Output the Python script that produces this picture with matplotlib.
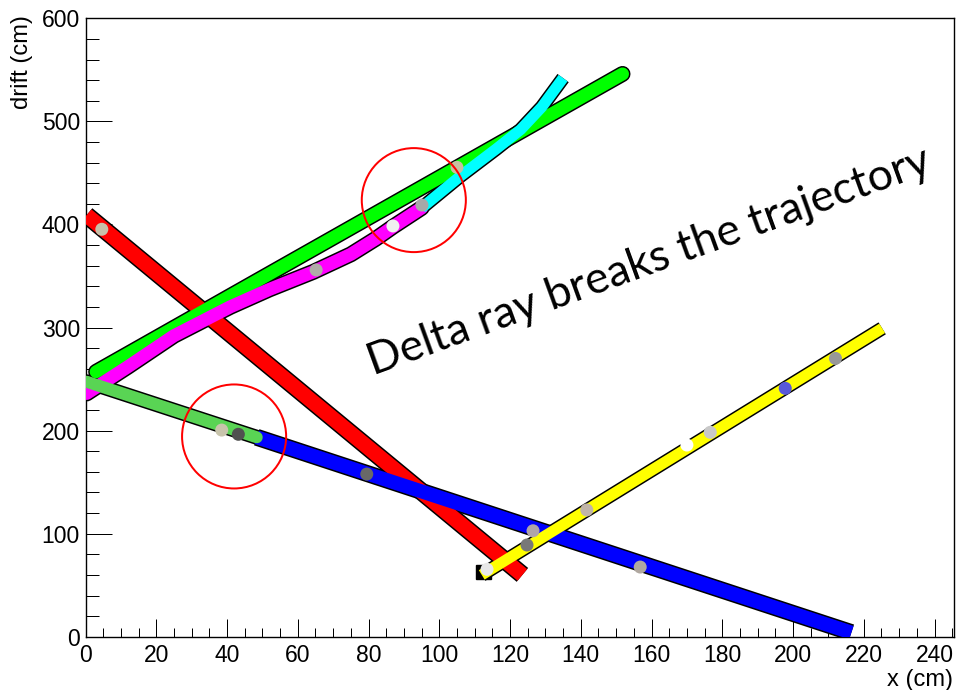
import matplotlib
matplotlib.use("Agg")
import matplotlib.pyplot as plt
from matplotlib.patches import Ellipse, Rectangle
from matplotlib.ticker import MultipleLocator

# ---- data (cm) ----
red_x = [0.3, 123.5]
red_y = [409, 60]
lime_x = [3, 151.8]
lime_y = [257, 546]
magenta_x = [0.3, 12, 25, 40.9, 52, 64.4, 75, 82, 87, 95]
magenta_y = [236, 262, 292, 320, 337, 354, 371, 386, 398, 416]
cyan_x = [95, 106, 116, 123, 129, 135]
cyan_y = [416, 447, 473, 492, 514, 542]
green_x = [0.3, 48.4]
green_y = [247.4, 193.5]
blue_x = [48.4, 216.5]
blue_y = [193.5, 4]
yellow_x = [112, 225.2]
yellow_y = [60, 299.2]

blob_x = [4.6, 65.2, 86.9, 95.1, 105, 38.5, 43.2, 79.5, 126.5, 141.7, 124.8,
          113.5, 156.8, 170, 176.6, 197.8, 212]
blob_y = [395.3, 355.8, 398.5, 418.8, 455.4, 200.5, 196.4, 157.8, 102.8, 123,
          89, 65.4, 67.6, 186, 198.3, 241, 270]
blob_c = ["#c8c0a8", "#b0aca8", "#f0f0f0", "#a8a8a8", "#c8c0a0", "#c8c4ac",
          "#505050", "#686868", "#b0a4a8", "#c0b4a8", "#787878", "#e8e8e8",
          "#b0a8a0", "#ffffff", "#c8c8c8", "#5858d8", "#989898"]

circle_x = [92.8, 42.0]
circle_y = [423.6, 194.3]

note_text = "Delta ray breaks the trajectory"

fig = plt.figure(figsize=(9.61, 6.90), dpi=100)
ax = fig.add_axes([0.089, 0.0772, 0.9037, 0.8963])
ax.set_xlim(0, 245.5)
ax.set_ylim(0, 600)

px = 72.0 / 100.0  # points per pixel


def track(x, y, color, wpx, cap="butt"):
    ax.plot(x, y, color="black", lw=(wpx + 3) * px, solid_capstyle=cap,
            solid_joinstyle="round", zorder=2)
    ax.plot(x, y, color=color, lw=wpx * px, solid_capstyle=cap,
            solid_joinstyle="round", zorder=3)


track(red_x, red_y, "#ff0000", 15)
track(lime_x, lime_y, "#00ff00", 13, "round")
track(magenta_x, magenta_y, "#ff00ff", 13, "round")
track(cyan_x, cyan_y, "#00ffff", 11)
track(blue_x, blue_y, "#0000ff", 14)
track(green_x, green_y, "#59d454", 12, "round")
track(yellow_x, yellow_y, "#ffff00", 11)

ax.add_patch(Rectangle((110.5, 56), 4, 14, color="black", zorder=1.5))

ax.scatter(blob_x, blob_y, s=(13 * px) ** 2, c=blob_c, zorder=4,
           linewidths=0)

for cx, cy in zip(circle_x, circle_y):
    ax.add_patch(Ellipse((cx, cy), 104 / 3.535, 104 / 1.0307, fill=False,
                         edgecolor="#ff0000", lw=2 * px, zorder=5))

ax.text(81.3, 253.9, note_text, rotation=20, rotation_mode="anchor",
        ha="left", va="baseline", fontsize=32, family="Lato", color="black",
        zorder=6)

# ROOT-like axes
for s in ax.spines.values():
    s.set_linewidth(1.0)
    s.set_color("black")
ax.xaxis.set_major_locator(MultipleLocator(20))
ax.xaxis.set_minor_locator(MultipleLocator(5))
ax.yaxis.set_major_locator(MultipleLocator(100))
ax.yaxis.set_minor_locator(MultipleLocator(20))
ax.tick_params(axis="x", which="major", direction="in", length=18 * px,
               width=1 * px, labelsize=16.5, pad=5)
ax.tick_params(axis="x", which="minor", direction="in", length=9 * px,
               width=1 * px)
ax.tick_params(axis="y", which="major", direction="in", length=26 * px,
               width=1 * px, labelsize=16.5, pad=4)
ax.tick_params(axis="y", which="minor", direction="in", length=13 * px,
               width=1 * px)
for lab in ax.get_xticklabels() + ax.get_yticklabels():
    lab.set_family("Liberation Sans")

fig.text(953 / 961, 1 - 680 / 690, "x (cm)", ha="right", va="center",
         fontsize=17, family="Liberation Sans")
fig.text(22 / 961, 1 - 15 / 690, "drift (cm)", ha="center", va="top",
         rotation=90, fontsize=17, family="Liberation Sans")

fig.savefig("out.png", dpi=100)
